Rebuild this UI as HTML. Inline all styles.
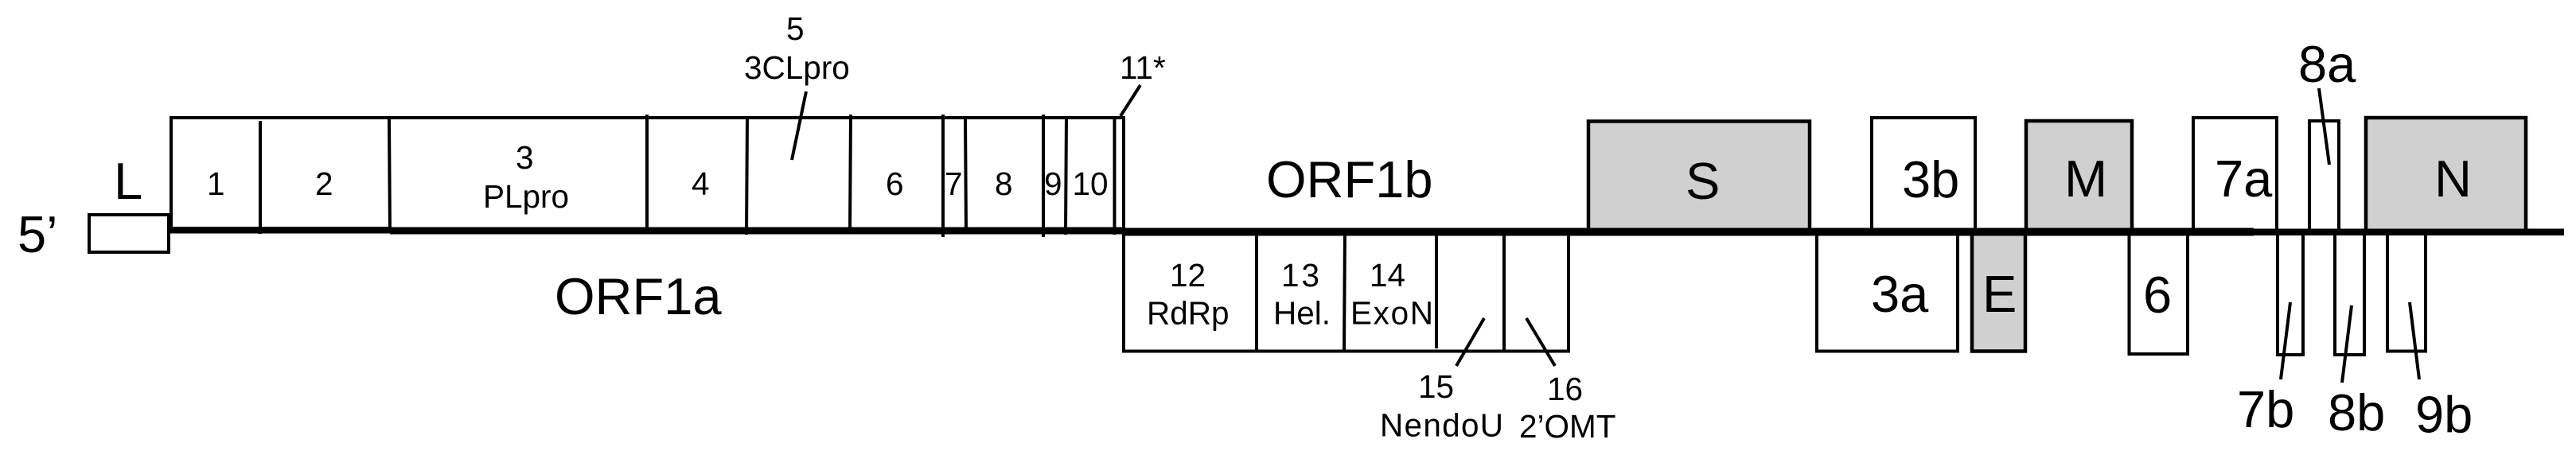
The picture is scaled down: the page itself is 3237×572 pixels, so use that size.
<!DOCTYPE html>
<html><head><meta charset="utf-8"><title>Genome diagram</title>
<style>
html,body{margin:0;padding:0;background:#fff;width:3237px;height:572px;overflow:hidden}
svg{display:block}
text{font-family:"Liberation Sans",sans-serif;fill:#000}
.s{font-size:40.5px}.b{font-size:65px}
.g{fill:#d0d0d0;stroke:#000;stroke-width:4.5}
.w{fill:#fff;stroke:#000;stroke-width:4}
line{stroke:#000;stroke-width:4}
</style></head><body>
<svg width="3237" height="572" viewBox="0 0 3237 572" xmlns="http://www.w3.org/2000/svg">
<rect width="3237" height="572" fill="#fff"/>
<!-- boxes -->
<rect class="w" x="112" y="270" width="100" height="47"/>
<rect class="w" x="215" y="148" width="1197" height="142"/>
<g>
<line x1="327" y1="152" x2="327" y2="294"/><line x1="489" y1="148" x2="490" y2="293"/>
<line x1="813" y1="144" x2="813" y2="294"/><line x1="939" y1="148" x2="938" y2="295"/>
<line x1="1069" y1="144" x2="1068" y2="292"/><line x1="1185" y1="144" x2="1185" y2="298"/>
<line x1="1213" y1="148" x2="1214" y2="292"/><line x1="1311" y1="144" x2="1311" y2="298"/>
<line x1="1340" y1="148" x2="1339" y2="295"/><line x1="1400.5" y1="148" x2="1400.5" y2="295"/>
<line x1="1412" y1="148" x2="1412" y2="295"/>
</g>
<rect class="w" x="1412" y="290" width="559" height="151.500"/>
<line x1="1579" y1="290" x2="1579" y2="441"/><line x1="1690" y1="290" x2="1689" y2="441"/>
<line x1="1805" y1="290" x2="1805" y2="438"/><line x1="1890" y1="290" x2="1890" y2="441"/>
<rect class="g" x="1996" y="152.500" width="278" height="140"/>
<rect class="w" x="2352" y="148" width="130" height="142"/>
<rect class="w" x="2283" y="292" width="177" height="149.500"/>
<rect class="g" x="2478" y="292" width="67" height="149.500"/>
<rect class="g" x="2546" y="152" width="133" height="140"/>
<rect class="w" x="2675.500" y="292" width="73.500" height="153"/>
<rect class="w" x="2756" y="148" width="105" height="142"/>
<rect class="w" x="2862" y="292" width="32" height="154"/>
<rect class="w" x="2902" y="152" width="37" height="140"/>
<rect class="w" x="2934" y="292" width="37" height="154"/>
<rect class="g" x="2973" y="148" width="201" height="142"/>
<rect class="w" x="3000" y="292" width="48" height="149.500"/>
<!-- main line -->
<rect x="212" y="285" width="280" height="8.500" fill="#000"/>
<rect x="490" y="285.500" width="922" height="9" fill="#000"/>
<rect x="1410" y="286.500" width="1422" height="10" fill="#000"/>
<rect x="2832" y="287.500" width="390" height="8.500" fill="#000"/>
<!-- leaders -->
<line x1="1013" y1="115" x2="995" y2="201"/>
<line x1="1433" y1="107" x2="1408" y2="146"/>
<line x1="1865" y1="400" x2="1830" y2="460"/>
<line x1="1918" y1="400" x2="1954" y2="460"/>
<line x1="2914" y1="111" x2="2927" y2="207"/>
<line x1="2878" y1="380" x2="2866" y2="477"/>
<line x1="2955" y1="384" x2="2943" y2="481"/>
<line x1="3028" y1="380" x2="3040" y2="477"/>
<!-- small labels -->
<g class="s">
<text x="260" y="245">1</text><text x="396" y="245">2</text>
<text x="648" y="212">3</text><text x="607" y="261">PLpro</text>
<text x="869" y="245">4</text>
<text x="988" y="50">5</text><text x="935" y="99">3CLpro</text>
<text x="1113" y="245">6</text><text x="1187" y="245">7</text>
<text x="1250" y="245">8</text><text x="1312" y="245">9</text>
<text x="1347.500" y="245">10</text>
<text x="1407" y="99">11*</text>
<text x="1470" y="360">12</text><text x="1441" y="407.500">RdRp</text>
<text x="1610" y="360" textLength="48" lengthAdjust="spacing">13</text><text x="1600" y="407.500">Hel.</text>
<text x="1721" y="360">14</text><text x="1697" y="407.500" textLength="104" lengthAdjust="spacing">ExoN</text>
<text x="1782" y="500">15</text><text x="1944" y="503">16</text>
<text x="1734" y="548.500" textLength="155" lengthAdjust="spacing">NendoU</text>
<text x="1909" y="550">2’OMT</text>
</g>
<!-- large labels -->
<g class="b">
<text x="143" y="250">L</text><text x="22" y="317">5’</text>
<text x="697" y="395">ORF1a</text><text x="1591" y="248">ORF1b</text>
<text x="2118" y="250">S</text><text x="2351" y="392">3a</text><text x="2390" y="248">3b</text>
<text x="2491" y="392">E</text><text x="2594" y="247">M</text><text x="2693" y="393">6</text>
<text x="2783" y="247">7a</text><text x="3059" y="247">N</text>
<text x="2888" y="103">8a</text><text x="2811" y="537">7b</text>
<text x="2925" y="541">8b</text><text x="3035" y="543.500">9b</text>
</g>
</svg>
</body></html>
